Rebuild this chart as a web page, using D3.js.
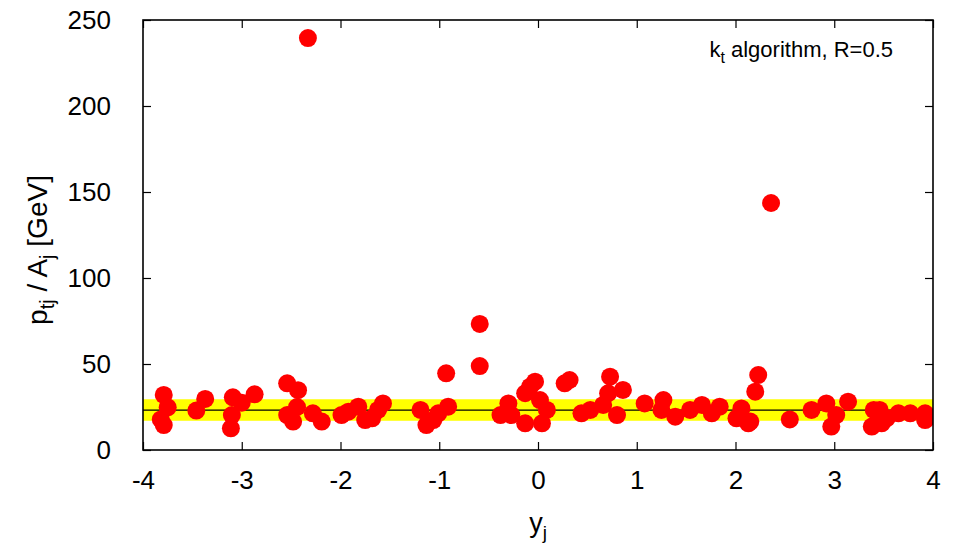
<!DOCTYPE html>
<html><head><meta charset="utf-8">
<script src="https://cdn.jsdelivr.net/npm/d3@7"></script>
<style>body{margin:0;background:#fff}svg{display:block}text{font-family:"Liberation Sans",Arial,sans-serif}</style>
</head><body>
<script>
const xTicks = [-4,-3,-2,-1,0,1,2,3,4];
const yTicks = [0,50,100,150,200,250];
const bandLow = 17, bandHigh = 29.5, bandMean = 23.2;
const rapidity = [
-3.79,-3.75,-3.82,-3.79,-3.46,-3.37,-3.09,-3.00,-3.10,-3.11,-2.87,-2.54,-2.43,-2.44,-2.54,-2.48,-2.33,
-2.28,-2.19,-1.99,-1.92,-1.82,-1.75,-1.68,-1.62,-1.57,-1.19,-1.13,-1.06,-1.01,-0.93,-0.91,-0.59,-0.59,
-0.38,-0.30,-0.27,-0.13,-0.08,-0.03,-0.13,0.02,0.09,0.04,0.27,0.32,0.44,0.53,
0.73,0.86,0.71,0.66,0.80,1.08,1.27,1.25,1.39,1.54,1.66,1.76,1.84,2.01,2.06,2.13,
2.23,2.20,2.15,2.36,2.55,2.77,2.92,3.02,2.97,3.14,3.40,3.46,3.38,3.48,3.53,3.65,3.77,3.92,3.92
];
const ptOverA = [
32,24.8,17.8,14.5,22.9,29.7,30.6,27.5,20.3,12.6,32.4,38.8,34.8,25,20.3,16.5,239.5,
21.3,16.5,20.3,22.3,25.2,17.4,18.4,23.3,27.1,23.3,14.5,17.4,21.3,44.6,25.2,73.3,48.8,
20.3,27.1,20.3,33,36.8,39.7,15.5,29,23.3,15.5,38.8,40.7,21.3,23.3,
42.6,34.9,33,26.2,20.3,27.1,29,23.3,19.4,23.3,26.2,21.3,25.2,18.4,24.2,15.5,
43.6,33.9,16.5,143.6,17.8,23.3,27.1,20.3,13.6,28.1,23.3,23.3,13.6,15.5,18.4,21.3,21.3,21.3,17.4
];

const W=956,H=548;
const m={l:143,r:956-933,t:20,b:548-450};
const svg=d3.select("body").append("svg").attr("width",W).attr("height",H);
const x=d3.scaleLinear().domain([-4,4]).range([m.l,W-m.r]);
const y=d3.scaleLinear().domain([0,250]).range([H-m.b,m.t]);

const clip=svg.append("clipPath").attr("id","c").append("rect")
  .attr("x",x(-4)).attr("y",y(250)).attr("width",x(4)-x(-4)).attr("height",y(0)-y(250));
const g=svg.append("g").attr("clip-path","url(#c)");
g.append("rect").attr("x",x(-4)).attr("width",x(4)-x(-4))
  .attr("y",y(bandHigh)).attr("height",y(bandLow)-y(bandHigh)).attr("fill","#ffff00");
g.append("line").attr("x1",x(-4)).attr("x2",x(4)).attr("y1",y(bandMean)).attr("y2",y(bandMean))
  .attr("stroke","#000").attr("stroke-width",1.2);
g.selectAll("circle").data(rapidity.map((v,i)=>[v,ptOverA[i]])).join("circle")
  .attr("cx",d=>x(d[0])).attr("cy",d=>y(d[1])).attr("r",9).attr("fill","#ff0000");

const tl=8;
const fmt=d=>String(d);
function style(sel){sel.select(".domain").remove();sel.selectAll("line").attr("stroke","#000").attr("stroke-width",1.2);}
const fs="26px";
svg.append("g").attr("transform",`translate(0,${y(0)})`)
  .call(d3.axisBottom(x).tickValues(xTicks).tickSizeInner(-tl).tickSizeOuter(0).tickPadding(21).tickFormat(fmt))
  .call(style).call(s=>s.selectAll("text").attr("font-size",fs).attr("fill","#000").attr("dy","0.71em"));
svg.append("g").attr("transform",`translate(0,${y(250)})`)
  .call(d3.axisTop(x).tickValues(xTicks).tickSizeInner(-tl).tickSizeOuter(0).tickFormat(""))
  .call(style);
svg.append("g").attr("transform",`translate(${x(-4)},0)`)
  .call(d3.axisLeft(y).tickValues(yTicks).tickSizeInner(-tl).tickSizeOuter(0).tickPadding(32).tickFormat(fmt))
  .call(style).call(s=>s.selectAll("text").attr("font-size",fs).attr("fill","#000"));
svg.append("g").attr("transform",`translate(${x(4)},0)`)
  .call(d3.axisRight(y).tickValues(yTicks).tickSizeInner(-tl).tickSizeOuter(0).tickFormat(""))
  .call(style);
svg.append("rect").attr("x",x(-4)).attr("y",y(250)).attr("width",x(4)-x(-4)).attr("height",y(0)-y(250))
  .attr("fill","none").attr("stroke","#000").attr("stroke-width",1.6);

// x label
const xl=svg.append("text").attr("x",(x(-4)+x(4))/2).attr("y",532).attr("text-anchor","middle").attr("font-size","27px");
xl.append("tspan").text("y");
xl.append("tspan").attr("font-size","19px").attr("dy",7).text("j");
// y label
const yl=svg.append("text").attr("transform",`translate(47,250) rotate(-90)`).attr("text-anchor","middle").attr("font-size","28px");
yl.append("tspan").text("p");
yl.append("tspan").attr("font-size","20px").attr("dy",7).text("tj");
yl.append("tspan").attr("dy",-7).text(" / A");
yl.append("tspan").attr("font-size","20px").attr("dy",7).text("j");
yl.append("tspan").attr("dy",-7).text(" [GeV]");
// key
const kt=svg.append("text").attr("x",893).attr("y",57).attr("text-anchor","end").attr("font-size","22px");
kt.append("tspan").text("k");
kt.append("tspan").attr("font-size","16px").attr("dy",6).text("t");
kt.append("tspan").attr("dy",-6).text(" algorithm, R=0.5");
</script>
</body></html>
